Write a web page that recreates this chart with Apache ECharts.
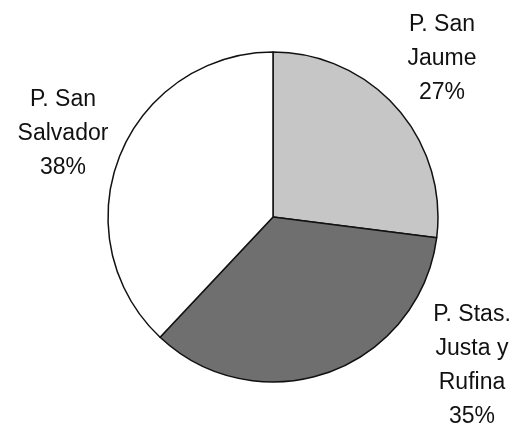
<!DOCTYPE html>
<html>
<head>
<meta charset="utf-8">
<script src="https://cdn.jsdelivr.net/npm/echarts@6/dist/echarts.min.js"></script>
<style>
  html, body { margin: 0; padding: 0; background: #fff; }
  #chart { width: 524px; height: 425px; }
</style>
</head>
<body>
<div id="chart"></div>
<script>
// data
const names = ['P. San\nJaume', 'P. Stas.\nJusta y\nRufina', 'P. San\nSalvador']
const shares = [27, 35, 38]
const colors = ['#c6c6c6', '#6f6f6f', '#ffffff']

// where each label block sits (centre of the text block)
const labelPos = [
  { x: 442, y: 59 },
  { x: 472, y: 366 },
  { x: 63, y: 134 }
]

const chart = echarts.init(document.getElementById('chart'))
chart.setOption({
  animation: false,
  series: [
    {
      type: 'pie',
      center: [273, 217],
      radius: 165,
      startAngle: 90,
      clockwise: true,
      data: names.map((n, i) => ({
        name: n,
        value: shares[i],
        itemStyle: { color: colors[i] }
      })),
      itemStyle: {
        borderColor: '#111',
        borderWidth: 1.5
      },
      label: {
        show: true,
        position: 'outside',
        overflow: 'none',
        formatter: p => p.name + '\n' + p.value + '%',
        fontFamily: 'Liberation Sans, Arial, sans-serif',
        fontSize: 23,
        lineHeight: 34,
        color: '#111',
        align: 'center'
      },
      labelLine: { show: false },
      labelLayout: params => ({
        x: labelPos[params.dataIndex].x,
        y: labelPos[params.dataIndex].y,
        align: 'center',
        verticalAlign: 'middle'
      })
    }
  ]
})
</script>
</body>
</html>
